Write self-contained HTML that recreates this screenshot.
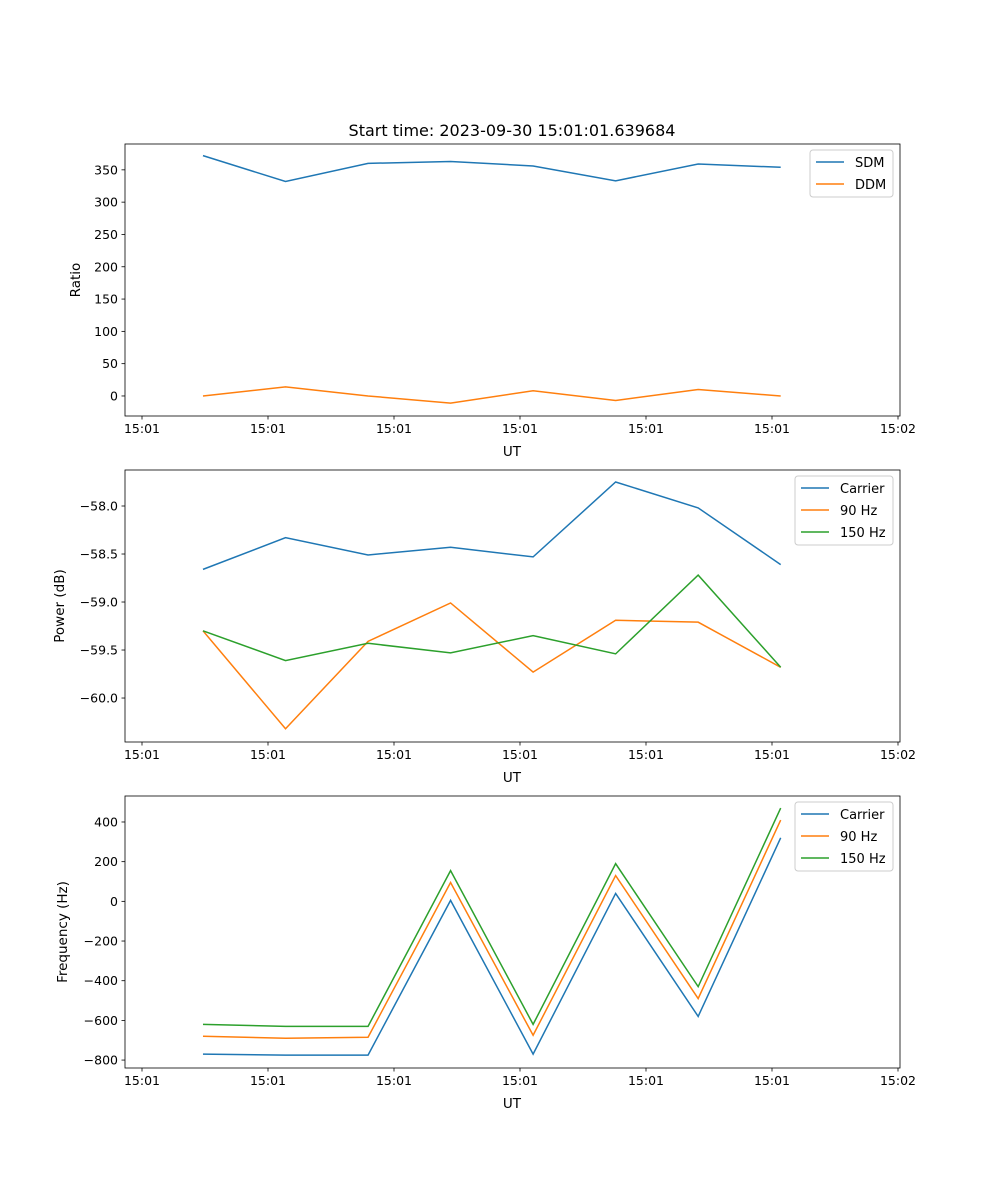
<!DOCTYPE html>
<html><head><meta charset="utf-8"><style>
body{margin:0;background:#fff}
svg{display:block;font-family:"DejaVu Sans","Liberation Sans",sans-serif}
</style></head><body>
<svg id="fig" width="1000" height="1200"></svg>
<script>
const times=[4.84,11.39,17.94,24.49,31.04,37.59,44.14,50.69];
const xTicks=[0,10,20,30,40,50,60];
const xTickLabels=["15:01","15:01","15:01","15:01","15:01","15:01","15:02"];
const sdm=[372,332,360,363,356,333,359,354];
const ddm=[0,14,0,-11,8,-7,10,0];
const pCarrier=[-58.66,-58.33,-58.51,-58.43,-58.53,-57.75,-58.02,-58.61];
const p90=[-59.30,-60.32,-59.41,-59.01,-59.73,-59.19,-59.21,-59.68];
const p150=[-59.30,-59.61,-59.43,-59.53,-59.35,-59.54,-58.72,-59.68];
const fCarrier=[-770,-775,-775,5,-770,40,-580,320];
const f90=[-680,-690,-685,95,-675,130,-490,410];
const f150=[-620,-630,-630,155,-620,190,-430,470];
const ticks1=[0,50,100,150,200,250,300,350];
const ticks2=[-60,-59.5,-59,-58.5,-58];
const ticks3=[-800,-600,-400,-200,0,200,400];

const NS="http://www.w3.org/2000/svg";
const svg=document.getElementById('fig');
function el(t,a,p){const e=document.createElementNS(NS,t);for(const k in a)e.setAttribute(k,a[k]);(p||svg).appendChild(e);return e;}
const X0=125,X1=900;
function xs(t){return 142+t*12.6;}
const C={b:'#1f77b4',o:'#ff7f0e',g:'#2ca02c'};
function axes(name,top,ymin,ymax,ticks,fmt,ylabel,series,legend,title){
  const bot=top+272;
  const g=el('g',{});
  
  
  const ys=v=>bot-(v-ymin)/(ymax-ymin)*272;
  series.forEach(s=>{
    const p=el('polyline',{points:s.d.map((v,i)=>xs(times[i])+','+ys(v)).join(' '),fill:'none',stroke:s.c,'stroke-width':1.5},g);
    
    
  });
  el('rect',{x:X0,y:top,width:X1-X0,height:272,fill:'none',stroke:'#000','stroke-width':0.8},g);
  xTicks.forEach((t,i)=>{const x=xs(t);el('line',{x1:x,x2:x,y1:bot,y2:bot+3.5,stroke:'#000','stroke-width':0.8},g);
    const tx=el('text',{x:x,y:bot+17,'font-size':12.5,'text-anchor':'middle'},g);tx.textContent=xTickLabels[i];});
  const xl=el('text',{x:512,y:bot+40,'font-size':13.5,'text-anchor':'middle'},g);xl.textContent='UT';
  
  ticks.forEach(v=>{const y=ys(v);el('line',{x1:X0-3.5,x2:X0,y1:y,y2:y,stroke:'#000','stroke-width':0.8},g);
    const tx=el('text',{x:X0-7,y:y+4.5,'font-size':12.5,'text-anchor':'end'},g);tx.textContent=fmt(v);});
  const lx=ylabel[1];
  const yl=el('text',{x:lx,y:top+136,'font-size':13.5,'text-anchor':'middle',transform:`rotate(-90 ${lx} ${top+136})`},g);yl.textContent=ylabel[0];
  
  if(title){const tt=el('text',{x:512,y:top-8,'font-size':16,'text-anchor':'middle'},g);tt.textContent=title;
    }
  const lg=el('g',{},g);
  
  el('rect',{x:legend[0],y:top+6,width:legend[1],height:series.length*22+3,rx:3,fill:'#fff',stroke:'#ccc','stroke-width':1},lg);
  series.forEach((s,i)=>{const y=top+18+i*22;
    el('line',{x1:legend[0]+6,x2:legend[0]+34,y1:y,y2:y,stroke:s.c,'stroke-width':1.5},lg);
    const t=el('text',{x:legend[0]+45,y:y+5,'font-size':13},lg);t.textContent=s.n;});
}
axes('ratio-chart',144,-31,390,ticks1,v=>String(v),['Ratio',80],
  [{n:'SDM',d:sdm,c:C.b},{n:'DDM',d:ddm,c:C.o}],[810,83],'Start time: 2023-09-30 15:01:01.639684');
axes('power-chart',470,-60.458,-57.625,ticks2,v=>'\u2212'+Math.abs(v).toFixed(1),['Power (dB)',64],
  [{n:'Carrier',d:pCarrier,c:C.b},{n:'90 Hz',d:p90,c:C.o},{n:'150 Hz',d:p150,c:C.g}],[795,98]);
axes('frequency-chart',796,-840,531,ticks3,v=>(v<0?'\u2212':'')+Math.abs(v),['Frequency (Hz)',67],
  [{n:'Carrier',d:fCarrier,c:C.b},{n:'90 Hz',d:f90,c:C.o},{n:'150 Hz',d:f150,c:C.g}],[795,98]);
</script>
</body></html>
